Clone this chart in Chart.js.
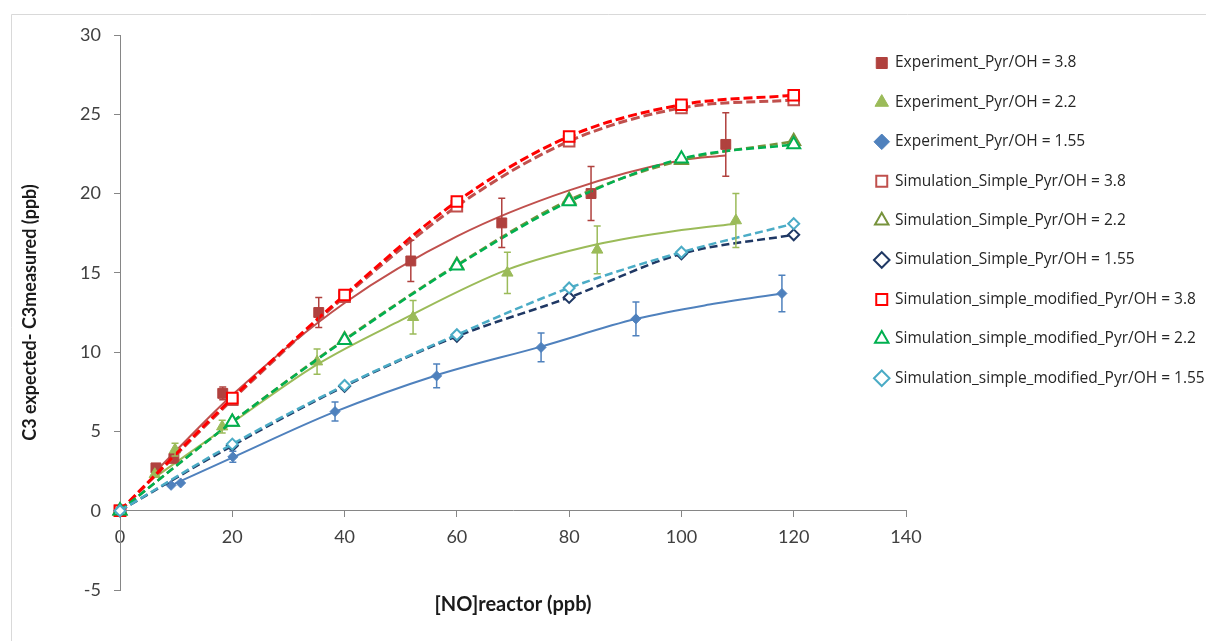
<!DOCTYPE html>
<html><head><meta charset="utf-8">
<script src="https://cdn.jsdelivr.net/npm/chart.js@4.4.0/dist/chart.umd.min.js"></script>
<style>html,body{margin:0;padding:0;background:#fff;}#wrap{width:1206px;height:641px;}</style>
</head><body><div id="wrap"><canvas id="c" width="1206" height="641"></canvas></div>
<script>
// ---------- data ----------
const seriesNames = [
  'Experiment_Pyr/OH = 3.8',
  'Experiment_Pyr/OH = 2.2',
  'Experiment_Pyr/OH = 1.55',
  'Simulation_Simple_Pyr/OH = 3.8',
  'Simulation_Simple_Pyr/OH = 2.2',
  'Simulation_Simple_Pyr/OH = 1.55',
  'Simulation_simple_modified_Pyr/OH = 3.8',
  'Simulation_simple_modified_Pyr/OH = 2.2',
  'Simulation_simple_modified_Pyr/OH = 1.55'
];
const xTitle = '[NO]reactor (ppb)';
const yTitle = 'C3 expected- C3measured (ppb)';

const exp38X   = [6.4, 9.6, 18.3, 35.4, 51.8, 68.0, 83.9, 107.9];
const exp38Y   = [2.7, 3.3, 7.4, 12.5, 15.75, 18.15, 20.0, 23.1];
const exp38Err = [0, 0, 0.4, 0.95, 1.3, 1.55, 1.7, 2.0];

const exp22X   = [6.2, 9.8, 18.2, 35.1, 52.2, 69.0, 85.0, 109.7];
const exp22Y   = [2.3, 3.85, 5.3, 9.4, 12.2, 15.0, 16.45, 18.3];
const exp22Err = [0, 0.4, 0.4, 0.8, 1.05, 1.3, 1.5, 1.7];

const exp155X   = [9.1, 10.8, 20.1, 38.3, 56.4, 75.0, 91.9, 117.9];
const exp155Y   = [1.6, 1.75, 3.4, 6.25, 8.5, 10.3, 12.1, 13.7];
const exp155Err = [0, 0, 0.35, 0.6, 0.75, 0.9, 1.07, 1.15];

const simX       = [0, 20, 40, 60, 80, 100, 120];
const simple38   = [0, 7.0, 13.5, 19.2, 23.3, 25.4, 25.9];
const simple22   = [0, 5.6, 10.8, 15.5, 19.6, 22.1, 23.3];
const simple155  = [0, 4.1, 7.85, 11.0, 13.45, 16.2, 17.4];
const mod38      = [0, 7.1, 13.6, 19.5, 23.6, 25.6, 26.2];
const mod22      = [0, 5.6, 10.75, 15.45, 19.5, 22.2, 23.1];
const mod155     = [0, 4.2, 7.9, 11.1, 14.05, 16.3, 18.1];

const trend38X  = [6.4, 20, 40, 60, 80, 100, 107.9];
const trend38Y  = [2.5, 7.3, 13.1, 17.3, 20.2, 22.1, 22.4];
const trend22X  = [6.2, 20, 35, 50, 69, 85, 100, 109.7];
const trend22Y  = [2.1, 5.55, 9.2, 12.0, 15.2, 16.8, 17.7, 18.1];
const trend155X = [9.1, 20, 38, 56, 75, 92, 105, 117.9];
const trend155Y = [1.6, 3.35, 6.2, 8.5, 10.35, 12.1, 13.0, 13.7];

const xTicksMin = 0, xTicksMax = 140, xStep = 20;
const yTicksMin = -5, yTicksMax = 30, yStep = 5;

// ---------- helpers ----------
const pts = (xs, ys) => xs.map((x, i) => ({x: x, y: ys[i]}));

function expSet(label, xs, ys, errs, color, style, r, ord) {
  return {label, data: pts(xs, ys), errors: errs, errorColor: color, order: ord,
    showLine: false, pointStyle: style, pointRadius: r, pointHoverRadius: r,
    backgroundColor: color, borderColor: color, pointBackgroundColor: color,
    pointBorderColor: color, pointBorderWidth: 1, clip: false};
}
function simSet(label, ys, color, style, r, lw, dash, ord) {
  return {label, data: pts(simX, ys), showLine: true, borderColor: color, order: ord,
    backgroundColor: '#ffffff', pointBackgroundColor: '#ffffff', pointBorderColor: color,
    pointBorderWidth: 2, pointStyle: style, pointRadius: r, pointHoverRadius: r,
    borderWidth: lw, borderDash: dash, cubicInterpolationMode: 'monotone', clip: false};
}
function trendSet(xs, ys, color) {
  return {label: '', isTrend: true, data: pts(xs, ys), showLine: true, borderColor: color,
    backgroundColor: color, borderWidth: 2, pointRadius: 0, pointHoverRadius: 0, order: 50,
    cubicInterpolationMode: 'monotone', clip: false};
}

const datasets = [
  expSet(seriesNames[0], exp38X, exp38Y, exp38Err, '#B0413E', 'rect', 7, 9),
  expSet(seriesNames[1], exp22X, exp22Y, exp22Err, '#9BBB59', 'triangle', 6.5, 8),
  expSet(seriesNames[2], exp155X, exp155Y, exp155Err, '#4F81BD', 'rectRot', 5, 7),
  simSet(seriesNames[3], simple38, '#C0504D', 'rect', 7.5, 3, [9, 4], 6),
  simSet(seriesNames[4], simple22, '#77933C', 'triangle', 7.5, 2.5, [8, 4], 5),
  simSet(seriesNames[5], simple155, '#1F3864', 'rectRot', 5.5, 2.5, [8, 4], 4),
  simSet(seriesNames[6], mod38, '#FF0000', 'rect', 7.5, 3, [9, 4], 3),
  simSet(seriesNames[7], mod22, '#00B050', 'triangle', 7.5, 2.5, [8, 4], 2),
  simSet(seriesNames[8], mod155, '#4BACC6', 'rectRot', 5.5, 2.5, [8, 4], 1),
  trendSet(trend38X, trend38Y, '#C0504D'),
  trendSet(trend22X, trend22Y, '#9BBB59'),
  trendSet(trend155X, trend155Y, '#4F81BD')
];

// ---------- plugins ----------
const errorBars = {
  id: 'errorBars',
  afterDatasetsDraw(chart) {
    const ctx = chart.ctx, xs = chart.scales.x, ys = chart.scales.y;
    chart.data.datasets.forEach((ds, i) => {
      if (!ds.errors || !chart.isDatasetVisible(i)) return;
      ctx.save();
      ctx.strokeStyle = ds.errorColor; ctx.lineWidth = 1.5; ctx.setLineDash([]);
      ds.data.forEach((p, j) => {
        const e = ds.errors[j]; if (!e) return;
        const px = xs.getPixelForValue(p.x);
        const t = ys.getPixelForValue(p.y + e), b = ys.getPixelForValue(p.y - e);
        ctx.beginPath();
        ctx.moveTo(px, t); ctx.lineTo(px, b);
        ctx.moveTo(px - 3.5, t); ctx.lineTo(px + 3.5, t);
        ctx.moveTo(px - 3.5, b); ctx.lineTo(px + 3.5, b);
        ctx.stroke();
      });
      ctx.restore();
    });
  }
};
const frame = {
  id: 'frame',
  beforeDraw(chart) {
    const ctx = chart.ctx;
    ctx.save();
    ctx.fillStyle = '#ffffff'; ctx.fillRect(0, 0, chart.width, chart.height);
    ctx.strokeStyle = '#D9D9D9'; ctx.lineWidth = 1;
    ctx.beginPath();
    ctx.moveTo(11.5, chart.height); ctx.lineTo(11.5, 14.5); ctx.lineTo(chart.width, 14.5);
    ctx.stroke();
    ctx.restore();
  }
};
const LEG_PAD = 23.9, LEG_FS = 15.5, LEG_BOX = 11, LEG_W = 300;
const legendPlace = {
  id: 'legendPlace',
  beforeLayout(chart) {
    const l = chart.legend;
    if (l && !l._fixedWidth) {
      const orig = l.fit.bind(l);
      l.fit = function () { orig(); this.width = LEG_W; };
      l._fixedWidth = true;
    }
  },
  afterLayout(chart) {
    const l = chart.legend; if (!l) return;
    const dx = (895 - LEG_BOX - LEG_FS / 2) - (l.left + LEG_PAD);
    const dy = 63 - (l.top + LEG_PAD + LEG_FS / 2);
    l.left += dx; l.right = chart.width; l.width = l.right - l.left;
    l.top += dy; l.bottom += dy;
  }
};

Chart.defaults.font.family = 'Lato, "Open Sans", sans-serif';
new Chart(document.getElementById('c'), {
  type: 'scatter',
  data: {datasets},
  plugins: [frame, errorBars, legendPlace],
  options: {
    responsive: false,
    animation: false,
    events: [],
    layout: {padding: {top: 35, bottom: 51, left: 0, right: 0}},
    plugins: {
      tooltip: {enabled: false},
      legend: {
        position: 'right', align: 'start',
        labels: {
          usePointStyle: true, boxWidth: LEG_BOX, boxHeight: LEG_BOX, padding: LEG_PAD,
          color: '#262626', font: {size: LEG_FS, family: '"Open Sans", sans-serif'},
          sort: (a, b) => a.datasetIndex - b.datasetIndex,
          filter: (item, data) => !data.datasets[item.datasetIndex].isTrend
        }
      }
    },
    scales: {
      x: {
        type: 'linear', position: {y: 0}, min: xTicksMin, max: xTicksMax,
        ticks: {stepSize: xStep, color: '#404040', font: {size: 18}, padding: 10, maxRotation: 0},
        grid: {drawOnChartArea: false, drawTicks: true, tickLength: 6, color: '#868686'},
        border: {color: '#868686', width: 1},
        title: {display: true, text: xTitle, color: '#1a1a1a', font: {size: 20, weight: 'bold'}, padding: {top: 34, bottom: 0}}
      },
      y: {
        type: 'linear', position: 'left', min: yTicksMin, max: yTicksMax,
        ticks: {stepSize: yStep, color: '#404040', font: {size: 18}, padding: 13},
        grid: {drawOnChartArea: false, drawTicks: true, tickLength: 6, color: '#868686'},
        border: {color: '#868686', width: 1},
        title: {display: true, text: yTitle, color: '#1a1a1a', font: {size: 18, weight: 'bold'}, padding: {top: 19, bottom: 0}},
        afterFit(s) { s.width = 120; }
      }
    }
  }
});
</script></body></html>
